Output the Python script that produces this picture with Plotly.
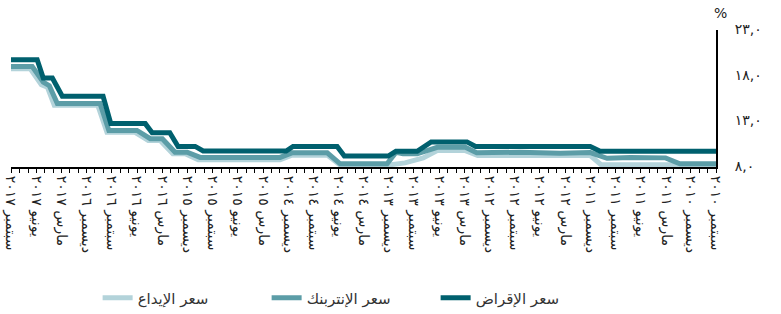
import pandas as pd
import plotly.graph_objects as go

# ---------------- data ----------------
# سعر الإقراض (lending rate)
lending_dates = ["2017-09-01", "2017-05-29", "2017-05-07", "2017-04-04", "2017-02-27",
                 "2016-10-02", "2016-09-04", "2016-05-02", "2016-04-07", "2016-02-03",
                 "2016-01-04", "2015-11-03", "2015-10-05", "2014-12-08", "2014-11-13",
                 "2014-06-06", "2014-05-11", "2013-12-03", "2013-11-05", "2013-08-20",
                 "2013-06-30", "2013-02-20", "2013-01-20", "2011-12-01", "2011-10-26",
                 "2010-09-01"]
lending_values = [19.75, 19.75, 17.75, 17.75, 15.75,
                  15.75, 12.75, 12.75, 11.75, 11.75,
                  10.25, 10.25, 9.75, 9.75, 10.25,
                  10.25, 9.2, 9.2, 9.72, 9.72,
                  10.75, 10.75, 10.25, 10.25, 9.72,
                  9.72]

# سعر الإنتربنك (interbank rate)
interbank_dates = ["2017-09-01", "2017-06-16", "2017-05-07", "2017-04-15", "2017-03-17",
                   "2016-10-13", "2016-09-11", "2016-06-01", "2016-04-14", "2016-03-01",
                   "2016-01-15", "2015-12-02", "2015-10-16", "2014-12-30", "2014-11-17",
                   "2014-07-12", "2014-05-26", "2013-12-07", "2013-11-05", "2013-10-10",
                   "2013-08-20", "2013-06-08", "2013-02-26", "2013-01-16", "2012-08-12",
                   "2012-03-19", "2011-12-01", "2011-10-01", "2011-07-09", "2011-04-27",
                   "2011-03-03", "2011-01-10", "2010-09-01"]
interbank_values = [19.0, 19.0, 17.3, 16.9, 14.95,
                    14.95, 12.0, 12.0, 11.1, 11.1,
                    9.62, 9.62, 9.05, 9.05, 9.55,
                    9.55, 8.35, 8.35, 9.6, 9.45,
                    9.45, 10.15, 10.15, 9.55, 9.62,
                    9.5, 9.58, 8.95, 9.05, 8.95,
                    9.0, 8.35, 8.35]

# سعر الإيداع (deposit rate)
deposit_dates = ["2017-09-01", "2017-06-23", "2017-05-14", "2017-04-22", "2017-03-28",
                 "2016-10-21", "2016-09-18", "2016-06-08", "2016-04-21", "2016-03-09",
                 "2016-01-23", "2015-12-09", "2015-10-23", "2014-12-30", "2014-11-17",
                 "2014-07-12", "2014-05-26", "2013-12-07", "2013-10-03", "2013-07-29",
                 "2013-06-08", "2013-02-26", "2013-01-12", "2011-12-01", "2011-10-23",
                 "2010-09-01"]
deposit_values = [18.75, 18.75, 17.0, 16.75, 14.75,
                  14.75, 11.8, 11.8, 10.9, 10.9,
                  9.45, 9.45, 8.8, 8.8, 9.3,
                  9.3, 8.2, 8.2, 8.45, 9.0,
                  9.8, 9.8, 9.25, 9.25, 8.25,
                  8.25]

series_names = ["سعر الإيداع", "سعر الإنتربنك", "سعر الإقراض"]

# axis ticks
quarter_months = [3, 6, 9, 12]
quarter_names_ar = ["مارس", "يونيو", "سبتمبر", "ديسمبر"]
y_tick_values = [8, 13, 18, 23]
y_tick_labels = ["٨,٠", "١٣,٠", "١٨,٠", "٢٣,٠"]
x_start, x_end = "2010-09-01", "2017-09-01"

# ---------------- build ----------------
arabic_digits = str.maketrans("0123456789", "٠١٢٣٤٥٦٧٨٩")
month_lookup = dict(zip(quarter_months, quarter_names_ar))
tick_dates = pd.date_range(x_start, x_end, freq="3MS")
tick_text = [f"{month_lookup[d.month]} {str(d.year).translate(arabic_digits)}" for d in tick_dates]

colors = ["#b3d3da", "#5c9da7", "#00606e"]
dates = [deposit_dates, interbank_dates, lending_dates]
values = [deposit_values, interbank_values, lending_values]

fig = go.Figure()
for name, d, v, c in zip(series_names, dates, values, colors):
    fig.add_trace(go.Scatter(x=pd.to_datetime(d), y=v, name=name, mode="lines",
                             line=dict(color=c, width=5)))

fig.update_layout(
    width=781, height=314,
    margin=dict(l=11, r=65, t=30, b=147, autoexpand=False),
    paper_bgcolor="white", plot_bgcolor="white",
    font=dict(family="DejaVu Sans, sans-serif", color="#222"),
    showlegend=True,
    legend=dict(orientation="h", xref="container", yref="container",
                x=0.125, xanchor="left", y=0.051, yanchor="middle",
                font=dict(size=15, color="#333"), entrywidth=124, entrywidthmode="pixels",
                traceorder="normal"),
    xaxis=dict(type="date", range=[x_end, x_start], tickvals=tick_dates, ticktext=tick_text,
               tickangle=90, ticks="outside", ticklen=4, tickwidth=1, tickcolor="black",
               showline=True, linecolor="black", linewidth=2, showgrid=False, zeroline=False,
               automargin=False, tickfont=dict(size=14, color="#222"),
               minor=dict(ticks="outside", dtick="M1", tick0=x_start, ticklen=4,
                          tickwidth=1, tickcolor="black", showgrid=False)),
    yaxis=dict(side="right", range=[8, 23], tickvals=y_tick_values, ticktext=y_tick_labels,
               showline=True, linecolor="black", linewidth=2, showgrid=False, zeroline=False,
               automargin=False, ticks="", ticklabelstandoff=14, ticklabelshift=-1,
               tickfont=dict(size=14, color="#222")),
    annotations=[dict(text="%", xref="paper", yref="paper", x=1.007, y=1.124,
                      xanchor="center", yanchor="middle",
                      showarrow=False, font=dict(size=14, color="#222"))],
)

fig.write_html("out.html", config={"displayModeBar": False},
               post_script="document.body.style.margin='0px';")
